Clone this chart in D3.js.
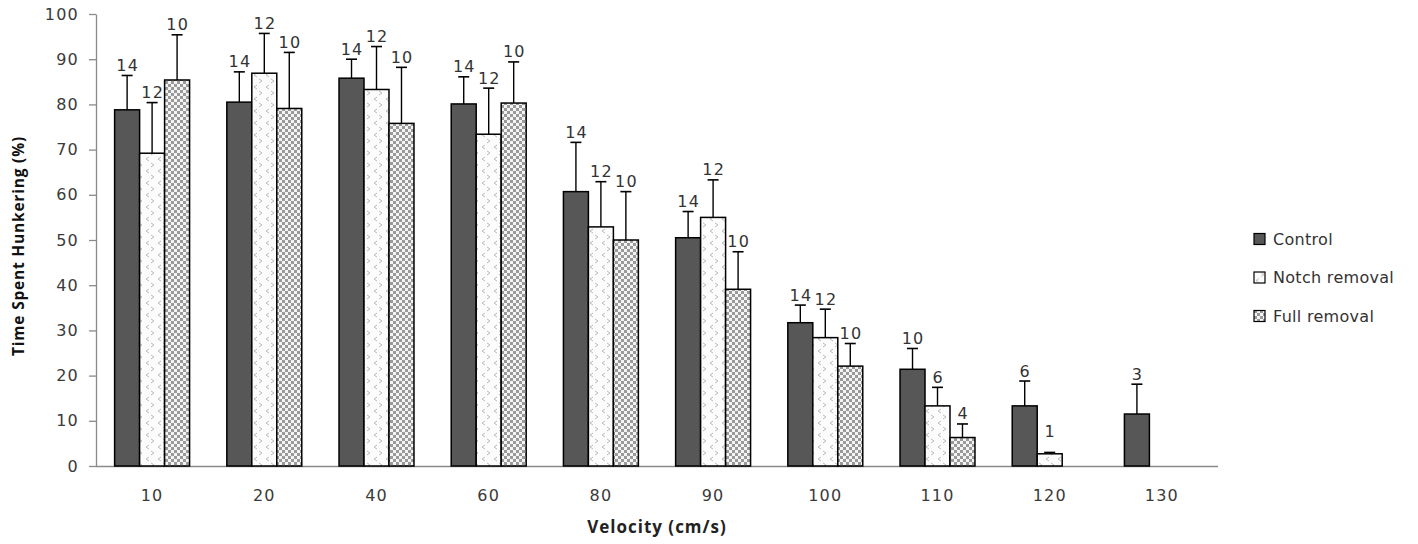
<!DOCTYPE html>
<html>
<head>
<meta charset="utf-8">
<script src="https://cdn.jsdelivr.net/npm/d3@7/dist/d3.min.js"></script>
<style>
  html, body { margin: 0; padding: 0; background: #fff; }
  svg { display: block; }
</style>
</head>
<body>
<svg id="chart" width="1418" height="544"></svg>
<script>
// Velocity categories (cm/s)
const velocities = ["10", "20", "40", "60", "80", "90", "100", "110", "120", "130"];
const seriesNames = ["Control", "Notch removal", "Full removal"];

// Mean time spent hunkering (%) per velocity; null = no fish tested
const controlMean = [78.8, 80.5, 85.8, 80.1, 60.7, 50.5, 31.7, 21.4, 13.3, 11.5];
const notchMean   = [69.2, 86.9, 83.3, 73.4, 52.9, 55.0, 28.4, 13.3, 2.7, null];
const fullMean    = [85.4, 79.1, 75.8, 80.3, 50.0, 39.1, 22.1, 6.3, null, null];

// Upper error (SE) above each mean
const controlErr = [7.6, 6.7, 4.2, 6.0, 10.9, 5.8, 3.9, 4.6, 5.5, 6.6];
const notchErr   = [11.2, 8.8, 9.5, 10.2, 10.0, 8.3, 6.3, 4.1, 0.3, null];
const fullErr    = [10.0, 12.4, 12.4, 9.1, 10.7, 8.3, 5.0, 3.0, null, null];

// Sample sizes shown above each bar
const controlN = [14, 14, 14, 14, 14, 14, 14, 10, 6, 3];
const notchN   = [12, 12, 12, 12, 12, 12, 12, 6, 1, null];
const fullN    = [10, 10, 10, 10, 10, 10, 10, 4, null, null];

const yTicks = [0, 10, 20, 30, 40, 50, 60, 70, 80, 90, 100];

const means = [controlMean, notchMean, fullMean];
const errs = [controlErr, notchErr, fullErr];
const ns = [controlN, notchN, fullN];

const svg = d3.select("#chart");
const plotLeft = 96, plotRight = 1218, plotTop = 14, plotBottom = 466;
const numFont = "DejaVu Sans, Verdana, sans-serif";
const titleFont = "Open Sans, Noto Sans, sans-serif";

const x0 = d3.scaleBand().domain(velocities).range([plotLeft, plotRight])
  .paddingInner(0.332).paddingOuter(0.166);
const x1 = d3.scaleBand().domain(seriesNames).range([0, x0.bandwidth()]).padding(0);
const y = d3.scaleLinear().domain([0, 100]).range([plotBottom, plotTop]);

// Fill patterns
const defs = svg.append("defs");
const check = defs.append("pattern").attr("id", "checker")
  .attr("patternUnits", "userSpaceOnUse").attr("width", 6).attr("height", 6);
check.append("rect").attr("width", 6).attr("height", 6).attr("fill", "#f4f4f4");
check.append("rect").attr("width", 3).attr("height", 3).attr("fill", "#9a9a9a");
check.append("rect").attr("x", 3).attr("y", 3).attr("width", 3).attr("height", 3).attr("fill", "#9a9a9a");

const chev = defs.append("pattern").attr("id", "chevrons")
  .attr("patternUnits", "userSpaceOnUse").attr("width", 12).attr("height", 12);
chev.append("rect").attr("width", 12).attr("height", 12).attr("fill", "#fcfcfc");
chev.append("path").attr("d", "M5,1 L2,3 L5,5").attr("fill", "none")
  .attr("stroke", "#b4b4b4").attr("stroke-width", 0.9);
chev.append("path").attr("d", "M7,7 L10,9 L7,11").attr("fill", "none")
  .attr("stroke", "#b4b4b4").attr("stroke-width", 0.9);

const fills = ["#575757", "url(#chevrons)", "url(#checker)"];

// Y axis
const yAxis = svg.append("g").attr("transform", `translate(${plotLeft},0)`)
  .call(d3.axisLeft(y).tickValues(yTicks).tickSize(7).tickPadding(10).tickSizeOuter(0));
yAxis.select(".domain").attr("stroke", "#8a8a8a").attr("stroke-width", 1.3);
yAxis.selectAll(".tick line").attr("stroke", "#8a8a8a").attr("stroke-width", 1.3);
yAxis.selectAll(".tick text").attr("font-family", numFont)
  .attr("font-size", 16).attr("letter-spacing", 1.2).attr("fill", "#3a3a3a");

// X axis
const xAxis = svg.append("g").attr("transform", `translate(0,${plotBottom})`)
  .call(d3.axisBottom(x0).tickSize(0).tickPadding(24).tickSizeOuter(0));
xAxis.select(".domain").attr("stroke", "#8a8a8a").attr("stroke-width", 1.3)
  .attr("d", `M${plotLeft},0.5H${plotRight}`);
xAxis.selectAll(".tick text").attr("font-family", numFont)
  .attr("font-size", 16).attr("letter-spacing", 1.2).attr("fill", "#3a3a3a");

// Bars, error bars and sample-size labels
seriesNames.forEach((name, si) => {
  const rows = velocities.map((v, i) => ({ v, i, m: means[si][i], e: errs[si][i], n: ns[si][i] }))
    .filter(r => r.m !== null);
  const g = svg.append("g");
  const bx = r => x0(r.v) + x1(name);
  const bw = x1.bandwidth();

  g.selectAll("line.err").data(rows.filter(r => r.e !== null)).join("line")
    .attr("class", "err")
    .attr("x1", r => bx(r) + bw / 2).attr("x2", r => bx(r) + bw / 2)
    .attr("y1", r => y(r.m)).attr("y2", r => y(r.m + r.e))
    .attr("stroke", "#000").attr("stroke-width", 1.4);
  g.selectAll("line.cap").data(rows.filter(r => r.e !== null)).join("line")
    .attr("class", "cap")
    .attr("x1", r => bx(r) + bw / 2 - 5.5).attr("x2", r => bx(r) + bw / 2 + 5.5)
    .attr("y1", r => y(r.m + r.e)).attr("y2", r => y(r.m + r.e))
    .attr("stroke", "#000").attr("stroke-width", 1.6);

  g.selectAll("rect").data(rows).join("rect")
    .attr("x", r => bx(r)).attr("width", bw)
    .attr("y", r => y(r.m)).attr("height", r => y(0) - y(r.m))
    .attr("fill", fills[si]).attr("stroke", "#000").attr("stroke-width", 1.5);

  g.selectAll("text").data(rows.filter(r => r.n !== null)).join("text")
    .attr("x", r => bx(r) + bw / 2 + 0.6)
    .attr("y", r => Math.min(y(r.m + r.e), y(r.m) - 12) - 4.5)
    .attr("text-anchor", "middle")
    .attr("font-family", numFont)
    .attr("font-size", 16).attr("letter-spacing", 1.2).attr("fill", "#333")
    .text(r => r.n);
});

// Axis titles
svg.append("text")
  .attr("transform", `translate(24,246) rotate(-90)`)
  .attr("text-anchor", "middle")
  .attr("font-family", titleFont)
  .attr("font-weight", "bold").attr("font-size", 15.5).attr("letter-spacing", 0.8)
  .attr("fill", "#111")
  .text("Time Spent Hunkering (%)");
svg.append("text")
  .attr("x", (plotLeft + plotRight) / 2).attr("y", 533)
  .attr("text-anchor", "middle")
  .attr("font-family", titleFont)
  .attr("font-weight", "bold").attr("font-size", 17).attr("letter-spacing", 1)
  .attr("fill", "#222")
  .text("Velocity (cm/s)");

// Legend
const legend = svg.append("g").attr("transform", "translate(1254,239)");
seriesNames.forEach((name, i) => {
  const row = legend.append("g").attr("transform", `translate(0,${i * 38.5})`);
  row.append("rect").attr("x", 0).attr("y", -5.5).attr("width", 11).attr("height", 11)
    .attr("fill", fills[i]).attr("stroke", "#000").attr("stroke-width", 1.2);
  row.append("text").attr("x", 19).attr("y", 0).attr("dy", "0.36em")
    .attr("font-family", numFont)
    .attr("font-size", 16).attr("letter-spacing", 0.3).attr("fill", "#333")
    .text(name);
});
</script>
</body>
</html>
